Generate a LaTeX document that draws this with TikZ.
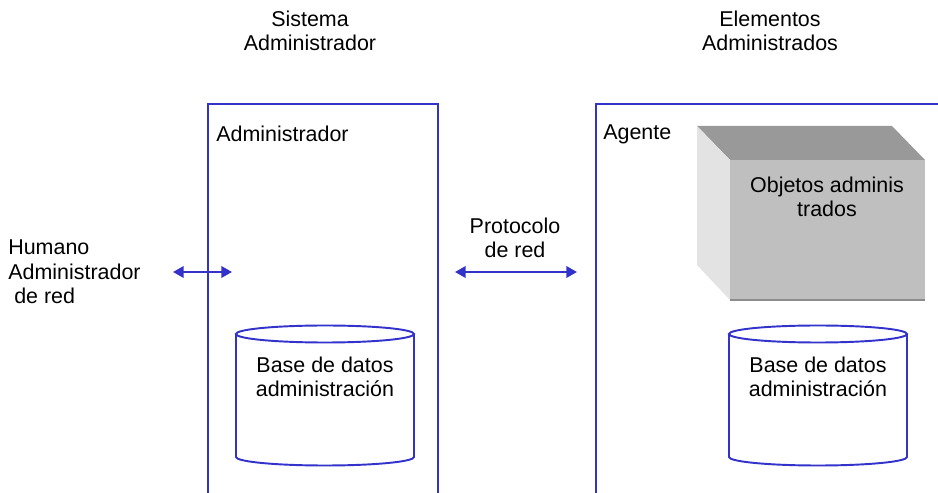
\documentclass[tikz,border=0pt]{standalone}
\usepackage{fontspec}
\setmainfont{Liberation Sans}
\usepackage{tikz}
\usetikzlibrary{arrows.meta}

\definecolor{linea}{RGB}{51,51,204}

\begin{document}
\begin{tikzpicture}[x=0.02cm, y=-0.02cm, font=\fontsize{12.2}{14}\selectfont]
        \tikzstyle{caja} = [draw=linea, line width=1.1pt, rectangle, anchor=north west, inner sep=0pt]
        \tikzstyle{texto} = [align=center, inner sep=0pt]
        \tikzstyle{doble} = [{Triangle[length=6pt,width=6.5pt]}-{Triangle[length=6pt,width=6.5pt]}, draw=linea, fill=linea, line width=1.1pt]
        \tikzstyle{bd} = [draw=linea, line width=1.1pt]
        \useasboundingbox (0,0) rectangle (938,493);
        % titulos
        \node[texto] (tsis) at (310,31) {Sistema\\Administrador};
        \node[texto] (telem) at (770,31) {Elementos\\Administrados};
        % cajas
        \node[caja, minimum width=230*0.02cm, minimum height=400*0.02cm] (sis) at (207,103) {};
        \node[caja, minimum width=360*0.02cm, minimum height=400*0.02cm] (elem) at (595,103) {};
        \node[texto, anchor=west] (adm) at (216,134) {Administrador};
        \node[texto, anchor=west] (ag) at (603,134) {Agente};
        % humano y protocolo
        \node[align=left, inner sep=0pt, anchor=west] (hum) at (8,272) {Humano\\Administrador\\\ de red};
        \node[texto] (prot) at (515,238) {Protocolo\\de red};
        \coordinate (h1) at (173,272);
        \coordinate (h2) at (232,272);
        \coordinate (p1) at (455,272);
        \coordinate (p2) at (577,272);
        \draw[doble] (h1) -- (h2);
        \draw[doble] (p1) -- (p2);
        % cubo de objetos
        \fill[black!40] (697,126) -- (892,126) -- (925,160) -- (730,160) -- cycle;
        \fill[black!11] (697,126) -- (730,160) -- (730,300) -- (697,265) -- cycle;
        \fill[black!25] (730,160) rectangle (925,300);
        \draw[black!45, line width=0.8pt] (730,300) -- (925,300);
        \node[texto] (obj) at (827,197) {Objetos adminis\\trados};
        % bases de datos
        \foreach \cx/\nombre in {325/bdsis, 818/bdelem} {
            \draw[bd] (\cx,334) ellipse [x radius=89, y radius=8.5];
            \draw[bd] (\cx-89,334) -- (\cx-89,457) arc[start angle=180, end angle=0, x radius=89, y radius=8.5] -- (\cx+89,334);
            \node[texto] (\nombre) at (\cx,377) {Base de datos\\administración};
        }
    \end{tikzpicture}
\end{document}
